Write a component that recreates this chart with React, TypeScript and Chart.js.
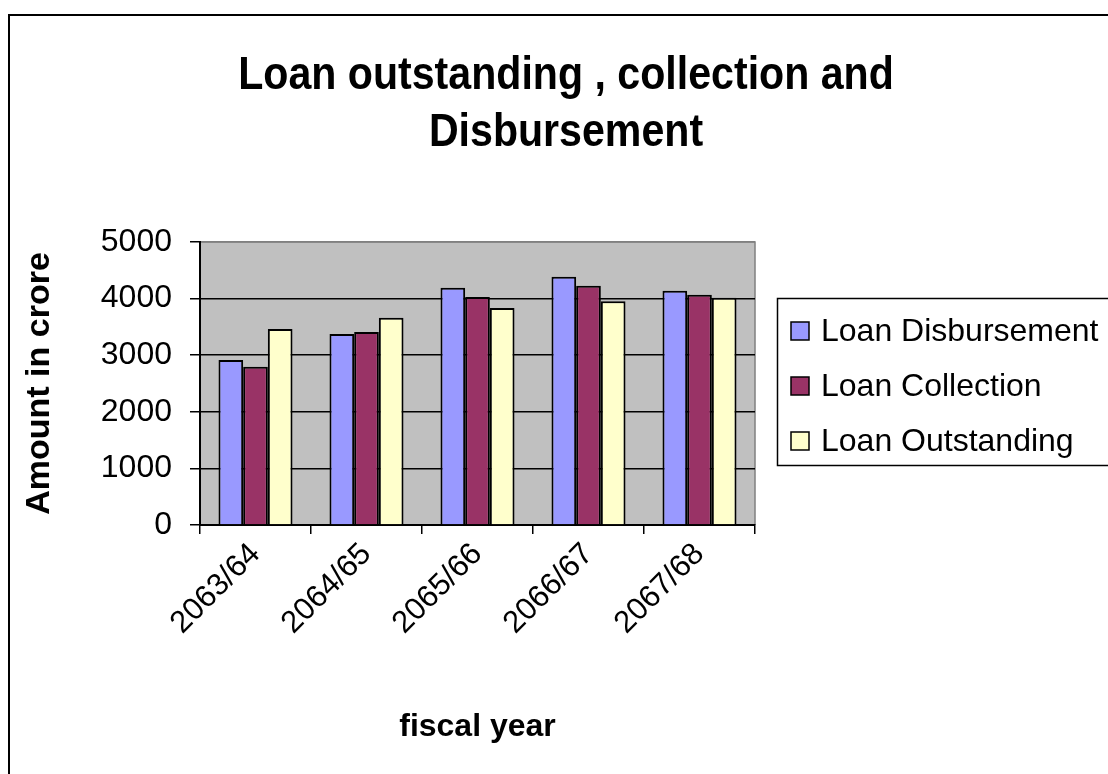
import React, { useEffect, useRef } from "react";
import { Chart, registerables } from "chart.js";

Chart.register(...registerables);

const titleLines = ["Loan outstanding , collection and", "Disbursement"];
const yAxisTitle = "Amount in crore";
const xAxisTitle = "fiscal year";
const categories = ["2063/64", "2064/65", "2065/66", "2066/67", "2067/68"];
const seriesNames = ["Loan Disbursement", "Loan Collection", "Loan Outstanding"];
const disbursement = [2915, 3375, 4190, 4385, 4140];
const collection = [2795, 3412, 4030, 4225, 4068];
const outstanding = [3463, 3660, 3832, 3955, 4015];
const seriesColors = ["#9999FF", "#993366", "#FFFFCC"];
const yMin = 0;
const yMax = 5000;
const yStep = 1000;

const FONT = "'Liberation Sans', Arial, Helvetica, sans-serif";

const decorPlugin = {
  id: "decor",
  beforeDraw(chart: any) {
    const { ctx, chartArea } = chart;
    ctx.save();
    ctx.fillStyle = "#FFFFFF";
    ctx.fillRect(0, 0, chart.width, chart.height);
    // outer frame
    ctx.strokeStyle = "#000";
    ctx.lineWidth = 2;
    ctx.strokeRect(9, 15, 1300, 900);
    // plot background
    ctx.fillStyle = "#C0C0C0";
    ctx.fillRect(chartArea.left, chartArea.top, chartArea.right - chartArea.left, chartArea.bottom - chartArea.top);
    ctx.strokeStyle = "#808080";
    ctx.lineWidth = 1.5;
    ctx.beginPath();
    ctx.moveTo(chartArea.left, chartArea.top);
    ctx.lineTo(chartArea.right, chartArea.top);
    ctx.lineTo(chartArea.right, chartArea.bottom);
    ctx.stroke();
    ctx.restore();
  },
  afterDraw(chart: any) {
    const { ctx } = chart;
    ctx.save();
    // title (slightly condensed, as in the reference)
    ctx.fillStyle = "#000";
    ctx.font = `bold 47px ${FONT}`;
    ctx.textAlign = "center";
    ctx.textBaseline = "alphabetic";
    const sx = 0.875;
    ctx.save();
    ctx.translate(566, 0);
    ctx.scale(sx, 1);
    ctx.fillText(titleLines[0], 0, 89);
    ctx.fillText(titleLines[1], 0, 146);
    ctx.restore();
    // legend
    ctx.strokeStyle = "#000";
    ctx.lineWidth = 1.5;
    ctx.strokeRect(777.5, 298.5, 400, 167);
    ctx.font = `32px ${FONT}`;
    ctx.textAlign = "left";
    ctx.textBaseline = "middle";
    chart.data.datasets.forEach((ds: any, i: number) => {
      const cy = 331 + i * 55;
      ctx.fillStyle = ds.backgroundColor;
      ctx.fillRect(791, cy - 9, 18, 18);
      ctx.strokeStyle = "#000";
      ctx.lineWidth = 1.5;
      ctx.strokeRect(791, cy - 9, 18, 18);
      ctx.fillStyle = "#000";
      ctx.fillText(ds.label, 821, cy + 1);
    });
    ctx.restore();
  },
};

export default function App() {
  const ref = useRef<HTMLCanvasElement | null>(null);
  useEffect(() => {
    if (!ref.current) return;
    const values = [disbursement, collection, outstanding];
    const chart = new Chart(ref.current, {
      type: "bar",
      data: {
        labels: categories,
        datasets: seriesNames.map((name, i) => ({
          label: name,
          data: values[i],
          backgroundColor: seriesColors[i],
          borderColor: "#000",
          borderWidth: 2,
          barPercentage: 1,
          categoryPercentage: 0.667,
        })),
      },
      options: {
        responsive: false,
        animation: false,
        devicePixelRatio: 1,
        layout: { padding: { top: 242, right: 353, bottom: 0, left: 0 } },
        plugins: {
          legend: { display: false },
          title: { display: false },
          tooltip: { enabled: false },
        },
        scales: {
          x: {
            offset: true,
            afterFit: (s: any) => {
              s.height = 249;
            },
            grid: {
              display: true,
              offset: true,
              drawOnChartArea: false,
              tickLength: 9,
              color: "#000",
              lineWidth: 1.5,
            },
            border: { color: "#000", width: 2 },
            ticks: {
              autoSkip: false,
              maxRotation: 45,
              minRotation: 45,
              color: "#000",
              padding: 2,
              font: { family: FONT, size: 31 },
            },
            title: {
              display: true,
              text: xAxisTitle,
              color: "#000",
              font: { family: FONT, size: 32, weight: "bold", lineHeight: 1 },
              padding: { top: 0, bottom: 31 },
            },
          },
          y: {
            min: yMin,
            max: yMax,
            afterFit: (s: any) => {
              s.width = 200;
            },
            grid: {
              color: (c: any) => (c.tick && c.tick.value === yMax ? "#808080" : "#000"),
              tickColor: "#000",
              lineWidth: 1.5,
              tickLength: 10,
            },
            border: { color: "#000", width: 2 },
            ticks: {
              stepSize: yStep,
              color: "#000",
              padding: 18,
              font: { family: FONT, size: 32 },
              callback: (v: any) => String(v),
            },
            title: {
              display: true,
              text: yAxisTitle,
              color: "#000",
              font: { family: FONT, size: 34, weight: "bold", lineHeight: 1 },
              padding: { top: 23, bottom: 0 },
            },
          },
        },
      },
      plugins: [decorPlugin],
    });
    return () => chart.destroy();
  }, []);
  return (
    <div style={{ position: "absolute", left: 0, top: 0, width: 1108, height: 774, overflow: "hidden" }}>
      <canvas ref={ref} width={1108} height={774} style={{ display: "block" }} />
    </div>
  );
}
